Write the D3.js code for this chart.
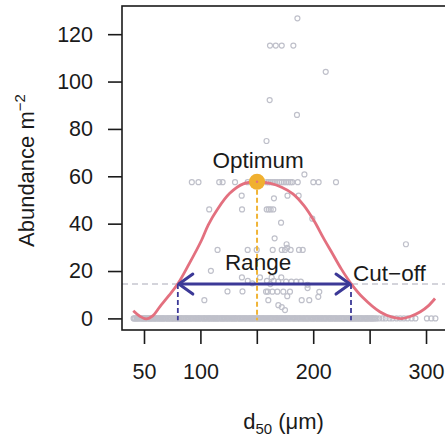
<!doctype html>
<html>
  <head>
    <meta charset="utf-8" />
    <title>Abundance vs d50</title>
    <style>
      body { margin: 0; background: #fff; }
      svg { display: block; }
      text { font-family: "Liberation Sans", Arial, sans-serif; fill: #1a1a1a; }
    </style>
  </head>
  <body>
    <svg id="chart" width="445" height="438"></svg>
    <script src="https://cdn.jsdelivr.net/npm/d3@7/dist/d3.min.js"></script>
    <script>
      // observed samples (d50 in um, abundance per m2)
      const sampleD50 = [
        186, 161.7, 166.8, 172.1, 182.4, 211.1, 161.4, 185.6, 158.6,
        192.2,
        92.4, 98.3, 116.7, 119.7, 130.7, 141.9, 146, 153, 158.8, 160.5, 162.3, 164.2, 166, 168, 170, 172, 174, 176, 178, 180, 181.5, 186.3, 200.1, 204.8, 220.2,
        136.6, 165.2, 177.2, 187.1,
        107.8, 136.9, 158.8, 160.6, 162.3, 164.6,
        199.2, 171.5, 165.8, 176.4, 177, 282.2,
        115.2, 141.9, 149.9, 164.1, 172.1, 175, 180, 187.4, 190.7,
        109.3, 136.8, 152.8, 163.2, 171.7,
        142, 146, 159, 162, 165, 169, 176, 180.6, 185, 189, 195,
        124, 137.3, 158.2, 159.7, 163.8, 168.2, 173.5, 179.4, 195, 205.4,
        103.5, 160.2, 189.8, 196.5, 177, 204.5,
        169.1, 172.1, 175
      ];
      const sampleAbund = [
        126.7, 115.2, 115.2, 115.2, 115.2, 104.1, 92.2, 85.9, 74.9,
        60.8,
        57.5, 57.5, 57.5, 57.5, 57.5, 57.5, 57.5, 57.5, 57.5, 57.5, 57.5, 57.5, 57.5, 57.5, 57.5, 57.5, 57.5, 57.5, 57.5, 57.5, 57.5, 57.5, 57.5, 57.5, 57.5,
        51.8, 50.7, 51.8, 51.8,
        46, 46, 46, 46, 46, 46,
        42.1, 40.4, 33.8, 31.3, 29.8, 31.3,
        28.9, 28.9, 28.9, 28.9, 28.9, 28.9, 28.9, 28.9, 28.9,
        20.1, 17.3, 17.3, 17.3, 17.3,
        15.8, 14.8, 15.8, 14.5, 15.8, 15.5, 15.5, 15.5, 15.5, 15.5, 14.2,
        11.4, 11.4, 11.3, 11.3, 11.3, 11.3, 11.3, 11.3, 12.8, 11.2,
        7.7, 7.7, 7.7, 7.7, 9.4, 9.1,
        5.6, 4.8, 3.5
      ];
      // samples with zero abundance
      const zeroD50 = [
        40.8, 41.6, 42.4, 43.7, 44.5, 45.3, 46.8, 47.6, 48.4, 49.7, 50.5, 51.2, 52.6, 53.4, 54.8, 55.5,
        56.3, 57.7, 58.4, 59.6, 60.5, 61.3, 62.8, 63.5, 64.4, 65.7, 66.5, 67.2, 68.6, 69.4, 70.8, 71.5,
        72.3, 73.7, 74.4, 75.6, 76.5, 77.3, 78.8, 79.5, 80.4, 81.7, 82.5, 83.2, 84.6, 85.4, 86.8, 87.5,
        88.3, 89.7, 90.4, 91.6, 92.5, 93.3, 94.8, 95.5, 96.4, 97.7, 98.5, 99.2, 100.6, 101.4, 102.8, 103.5,
        104.3, 105.7, 106.4, 107.6, 108.5, 109.3, 110.8, 111.5, 112.4, 113.7, 114.5, 115.2, 116.6, 117.4,
        118.8, 119.5, 120.3, 121.7, 122.4, 123.6, 124.5, 125.3, 126.8, 127.5, 128.4, 129.7, 130.5, 131.2,
        132.6, 133.4, 134.8, 135.5, 136.3, 137.7, 138.4, 139.6, 140.5, 141.3, 142.8, 143.5, 144.4, 145.7,
        146.5, 147.2, 148.6, 149.4, 150.8, 151.5, 152.3, 153.7, 154.4, 155.6, 156.5, 157.3, 158.8, 159.5,
        160.4, 161.7, 162.5, 163.2, 164.6, 165.4, 166.8, 167.5, 168.3, 169.7, 170.4, 171.6, 172.5, 173.3,
        174.8, 175.5, 176.4, 177.7, 178.5, 179.2, 180.6, 181.4, 182.8, 183.5, 184.3, 185.7, 186.4, 187.6,
        188.5, 189.3, 190.8, 191.5, 192.4, 193.7, 194.5, 195.2, 196.6, 197.4, 198.8, 199.5, 200.3, 201.7,
        202.4, 203.6, 204.5, 205.3, 206.8, 207.5, 208.4, 209.7, 210.5, 211.2, 212.6, 213.4, 214.8, 215.5,
        216.3, 217.7, 218.4, 219.6, 220.5, 221.3, 222.8, 223.5, 224.4, 225.7, 226.5, 227.2, 228.6, 229.4,
        230.8, 231.5, 232.3, 233.7, 234.4, 235.6, 236.5, 237.3, 238.8, 239.5, 240.4, 241.7, 242.5, 243.2,
        244.6, 245.4, 246.8, 247.5, 248.3, 249.7, 250.4, 251.6, 252.5, 253.3, 254.8, 256.1,
        258.4, 261.5, 264.2, 267.6, 270.3, 273.8, 277.1, 280.4, 283.7, 287.2, 290.6, 300.8, 304.7, 308.3
      ];

      // fitted response curve
      const curveD50 = [40.5, 46, 52, 58, 64, 72, 80, 90, 101, 107, 115, 126, 138, 150, 162, 172, 182, 192, 201, 209, 217, 225, 234, 244, 259, 270, 278.5, 286, 295, 302, 308];
      const curveAbund = [3.2, 1.0, -0.2, 1.2, 4.9, 9.6, 14.6, 23, 33, 39.5, 46, 52.8, 56.8, 57.7, 57.0, 55.4, 52.6, 47.5, 41, 34, 27.4, 20.8, 14.4, 8.8, 2.8, 0.5, -0.1, 0.8, 2.8, 5.3, 8.4];

      const optimum = { d50: 150.2, abund: 57.7 };
      const cutoff = 14.5;
      const rangeD50 = [80, 233.5];

      const xTicks = [50, 100, 150, 200, 250, 300];
      const xTickLabels = ["50", "100", "", "200", "", "300"];
      const yTicks = [0, 20, 40, 60, 80, 100, 120];

      const plotL = 122, plotR = 447, plotT = 6, plotB = 330;
      const x = d3.scaleLinear().domain([30.5, 318.6]).range([plotL, plotR]);
      const y = d3.scaleLinear().domain([-4.9, 131.9]).range([plotB, plotT]);

      const svg = d3.select("#chart");

      // points
      const pts = svg.append("g")
        .attr("fill", "none")
        .attr("stroke", "#bfc0ca")
        .attr("stroke-width", 1.2);
      pts.selectAll("circle.zero")
        .data(zeroD50)
        .enter()
        .append("circle")
        .attr("class", "zero")
        .attr("cx", (d) => x(d))
        .attr("cy", y(0))
        .attr("r", 2.5);
      pts.selectAll("circle.obs")
        .data(sampleD50.map((d, i) => [d, sampleAbund[i]]))
        .enter()
        .append("circle")
        .attr("class", "obs")
        .attr("cx", (d) => x(d[0]))
        .attr("cy", (d) => y(d[1]))
        .attr("r", 2.5);

      // cut-off line
      svg.append("line")
        .attr("x1", plotL).attr("x2", plotR)
        .attr("y1", y(cutoff)).attr("y2", y(cutoff))
        .attr("stroke", "#c6c6d0")
        .attr("stroke-width", 1.5)
        .attr("stroke-dasharray", "6,4");

      // response curve
      const line = d3.line()
        .x((d) => x(d[0]))
        .y((d) => y(d[1]))
        .curve(d3.curveCatmullRom);
      svg.append("path")
        .datum(curveD50.map((d, i) => [d, curveAbund[i]]))
        .attr("d", line)
        .attr("fill", "none")
        .attr("stroke", "#e3707f")
        .attr("stroke-width", 2.8);

      // range ends
      const blue = "#3c3997";
      svg.selectAll("line.rng")
        .data(rangeD50)
        .enter()
        .append("line")
        .attr("class", "rng")
        .attr("x1", (d) => x(d)).attr("x2", (d) => x(d))
        .attr("y1", y(cutoff)).attr("y2", y(-0.8))
        .attr("stroke", blue)
        .attr("stroke-width", 1.8)
        .attr("stroke-dasharray", "5,3");

      // range arrow
      const ay = y(cutoff);
      const x0 = x(rangeD50[0]), x1 = x(rangeD50[1]);
      svg.append("line")
        .attr("x1", x0 + 1).attr("x2", x1 - 1)
        .attr("y1", ay).attr("y2", ay)
        .attr("stroke", blue)
        .attr("stroke-width", 3);
      svg.append("path")
        .attr("d", `M${x0 + 15},${ay - 10}L${x0 + 1},${ay}L${x0 + 15},${ay + 10}` +
                   `M${x1 - 15},${ay - 10}L${x1 - 1},${ay}L${x1 - 15},${ay + 10}`)
        .attr("fill", "none")
        .attr("stroke", blue)
        .attr("stroke-width", 3)
        .attr("stroke-linecap", "round")
        .attr("stroke-linejoin", "round");

      // optimum
      svg.append("line")
        .attr("x1", x(optimum.d50)).attr("x2", x(optimum.d50))
        .attr("y1", y(optimum.abund)).attr("y2", y(-0.8))
        .attr("stroke", "#f0b437")
        .attr("stroke-width", 2)
        .attr("stroke-dasharray", "5,3");
      svg.append("circle")
        .attr("cx", x(optimum.d50))
        .attr("cy", y(optimum.abund))
        .attr("r", 8)
        .attr("fill", "#f0b030");
      svg.append("circle")
        .attr("cx", x(optimum.d50))
        .attr("cy", y(optimum.abund))
        .attr("r", 1.2)
        .attr("fill", "#e3707f");

      // annotations
      svg.append("text")
        .attr("x", x(optimum.d50) + 1).attr("y", 168)
        .attr("text-anchor", "middle")
        .style("font-size", "22.5px")
        .text("Optimum");
      svg.append("text")
        .attr("x", x(optimum.d50) + 1).attr("y", 270)
        .attr("text-anchor", "middle")
        .style("font-size", "22.5px")
        .text("Range");
      svg.append("text")
        .attr("x", 353).attr("y", 281)
        .style("font-size", "22.5px")
        .text("Cut\u2212off");

      // axes
      const xAxis = d3.axisBottom(x)
        .tickValues(xTicks)
        .tickFormat((d, i) => xTickLabels[i])
        .tickSize(14)
        .tickPadding(19.5);
      const gx = svg.append("g")
        .attr("transform", `translate(0,${plotB})`)
        .call(xAxis);
      const yAxis = d3.axisLeft(y)
        .tickValues(yTicks)
        .tickSize(14)
        .tickPadding(15);
      const gy = svg.append("g")
        .attr("transform", `translate(${plotL},0)`)
        .call(yAxis);
      [gx, gy].forEach((g) => {
        g.select(".domain").remove();
        g.selectAll(".tick line").attr("stroke", "#1a1a1a").attr("stroke-width", 1.6);
        g.selectAll(".tick text")
          .attr("fill", "#1a1a1a")
          .style("font-size", "21.5px")
          .style("font-family", '"Liberation Sans", Arial, sans-serif');
      });

      // box
      svg.append("rect")
        .attr("x", plotL).attr("y", plotT)
        .attr("width", plotR - plotL).attr("height", plotB - plotT)
        .attr("fill", "none")
        .attr("stroke", "#1a1a1a")
        .attr("stroke-width", 1.6);

      // axis titles
      const xt = svg.append("text")
        .attr("x", (plotL + 441) / 2 + 2).attr("y", 429)
        .attr("text-anchor", "middle")
        .style("font-size", "22px");
      xt.append("tspan").text("d");
      xt.append("tspan").attr("dy", 5).style("font-size", "15px").text("50");
      xt.append("tspan").attr("dy", -5).text(" (\u03bcm)");

      const yt = svg.append("text")
        .attr("transform", "translate(33.5,247) rotate(-90)")
        .style("font-size", "22px");
      yt.append("tspan").text("Abundance m");
      yt.append("tspan").attr("dy", -9).style("font-size", "15px").text("\u22122");
    </script>
  </body>
</html>
